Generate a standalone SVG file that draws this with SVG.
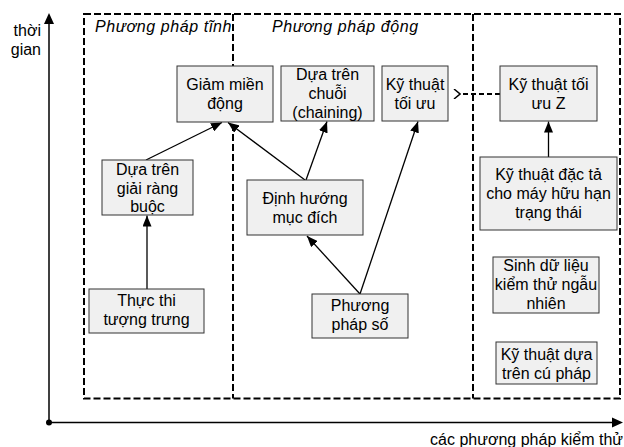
<svg xmlns="http://www.w3.org/2000/svg" width="624" height="447" viewBox="0 0 624 447">
  <defs>
    <style>
      text { font-family: "Liberation Sans", Arial, sans-serif; font-size: 16px; fill: #000; }
      .lbl { text-anchor: middle; }
      .region { font-style: italic; letter-spacing: 0.6px; }
      .box { fill: #f0f0f0; stroke: #333; stroke-width: 1; }
      .frame { fill: none; stroke: #000; stroke-width: 2; stroke-dasharray: 7 3; }
      .edge { fill: none; stroke: #000; stroke-width: 1.3; }
      .dash { fill: none; stroke: #000; stroke-width: 2; stroke-dasharray: 5 3; }
      .axis { fill: none; stroke: #000; stroke-width: 1.5; }
    </style>
    <marker id="head" viewBox="0 0 11 9" refX="11" refY="4.5" markerWidth="11" markerHeight="9" markerUnits="userSpaceOnUse" orient="auto">
      <path d="M0,0 L11,4.5 L0,9 Z" fill="#000"/>
    </marker>
    <marker id="open" viewBox="0 0 8 10" refX="1" refY="5" markerWidth="8" markerHeight="10" markerUnits="userSpaceOnUse" orient="auto">
      <path d="M7,0 L1,5 L7,10" fill="none" stroke="#000" stroke-width="1.5"/>
    </marker>
  </defs>

  <!-- axes -->
  <g id="axes">
    <line class="axis" x1="49" y1="422.5" x2="49" y2="22"/>
    <line class="axis" x1="49" y1="422.5" x2="613" y2="422.5"/>
    <path d="M612,417.5 L623,422.5 L612,427.5 Z" fill="#000"/>
    <path d="M44,24 L49,13 L54,24 Z" fill="#000"/>
    <circle cx="49" cy="422.5" r="3" fill="#000"/>
    <text x="41" y="36" text-anchor="end">thời</text>
    <text x="41" y="55" text-anchor="end">gian</text>
    <text x="623" y="445" text-anchor="end">các phương pháp kiểm thử</text>
  </g>

  <!-- method regions -->
  <g id="regions">
    <rect class="frame" x="84" y="14" width="536" height="384.5"/>
    <line class="frame" x1="233" y1="14" x2="233" y2="398.5"/>
    <line class="frame" x1="473" y1="14" x2="473" y2="398.5"/>
    <text class="region" x="95" y="32">Phương pháp tĩnh</text>
    <text class="region" x="272" y="32">Phương pháp động</text>
  </g>

  <!-- connectors -->
  <g id="connectors">
    <line class="edge" x1="147" y1="289" x2="147" y2="215.5" marker-end="url(#head)"/>
    <line class="edge" x1="146" y1="160" x2="222" y2="122.5" marker-end="url(#head)"/>
    <line class="edge" x1="305" y1="180" x2="228" y2="122.5" marker-end="url(#head)"/>
    <line class="edge" x1="306" y1="180" x2="327" y2="121.5" marker-end="url(#head)"/>
    <line class="edge" x1="360" y1="294" x2="307" y2="236" marker-end="url(#head)"/>
    <line class="edge" x1="360" y1="294" x2="418" y2="121.5" marker-end="url(#head)"/>
    <line class="edge" x1="548.5" y1="157" x2="548.5" y2="121.5" marker-end="url(#head)"/>
    <line class="dash" x1="500" y1="94" x2="460" y2="94" marker-end="url(#open)"/>
  </g>

  <!-- nodes -->
  <g id="giam-mien-dong">
    <rect class="box" x="177" y="66" width="96" height="56"/>
    <text class="lbl" x="225" y="90">Giảm miền</text>
    <text class="lbl" x="225" y="109">động</text>
  </g>
  <g id="dua-tren-chuoi">
    <rect class="box" x="281" y="66" width="93" height="55"/>
    <text class="lbl" x="327.5" y="80">Dựa trên</text>
    <text class="lbl" x="327.5" y="99">chuỗi</text>
    <text class="lbl" x="327.5" y="118">(chaining)</text>
  </g>
  <g id="ky-thuat-toi-uu">
    <rect class="box" x="382" y="66" width="66" height="55"/>
    <text class="lbl" x="415" y="90">Kỹ thuật</text>
    <text class="lbl" x="415" y="109">tối ưu</text>
  </g>
  <g id="ky-thuat-toi-uu-z">
    <rect class="box" x="500" y="66" width="97" height="55"/>
    <text class="lbl" x="548.5" y="90">Kỹ thuật tối</text>
    <text class="lbl" x="548.5" y="109">ưu Z</text>
  </g>
  <g id="giai-rang-buoc">
    <rect class="box" x="102" y="160" width="91" height="55"/>
    <text class="lbl" x="147.5" y="175">Dựa trên</text>
    <text class="lbl" x="147.5" y="194">giải ràng</text>
    <text class="lbl" x="147.5" y="212">buộc</text>
  </g>
  <g id="thuc-thi-tuong-trung">
    <rect class="box" x="89" y="289" width="115" height="44"/>
    <text class="lbl" x="146.5" y="306">Thực thi</text>
    <text class="lbl" x="146.5" y="325">tượng trưng</text>
  </g>
  <g id="dinh-huong-muc-dich">
    <rect class="box" x="247" y="180" width="116" height="55"/>
    <text class="lbl" x="305" y="204">Định hướng</text>
    <text class="lbl" x="305" y="223">mục đích</text>
  </g>
  <g id="phuong-phap-so">
    <rect class="box" x="312" y="294" width="96" height="44"/>
    <text class="lbl" x="360" y="311">Phương</text>
    <text class="lbl" x="360" y="330">pháp số</text>
  </g>
  <g id="dac-ta-may-huu-han">
    <rect class="box" x="480" y="157" width="137" height="73"/>
    <text class="lbl" x="548.5" y="180">Kỹ thuật đặc tả</text>
    <text class="lbl" x="548.5" y="199">cho máy hữu hạn</text>
    <text class="lbl" x="548.5" y="218">trạng thái</text>
  </g>
  <g id="sinh-du-lieu">
    <rect class="box" x="493" y="257" width="106" height="56"/>
    <text class="lbl" x="546" y="271">Sinh dữ liệu</text>
    <text class="lbl" x="546" y="290">kiểm thử ngẫu</text>
    <text class="lbl" x="546" y="309">nhiên</text>
  </g>
  <g id="dua-tren-cu-phap">
    <rect class="box" x="496" y="342" width="101" height="42"/>
    <text class="lbl" x="546.5" y="360">Kỹ thuật dựa</text>
    <text class="lbl" x="546.5" y="379">trên cú pháp</text>
  </g>
</svg>
